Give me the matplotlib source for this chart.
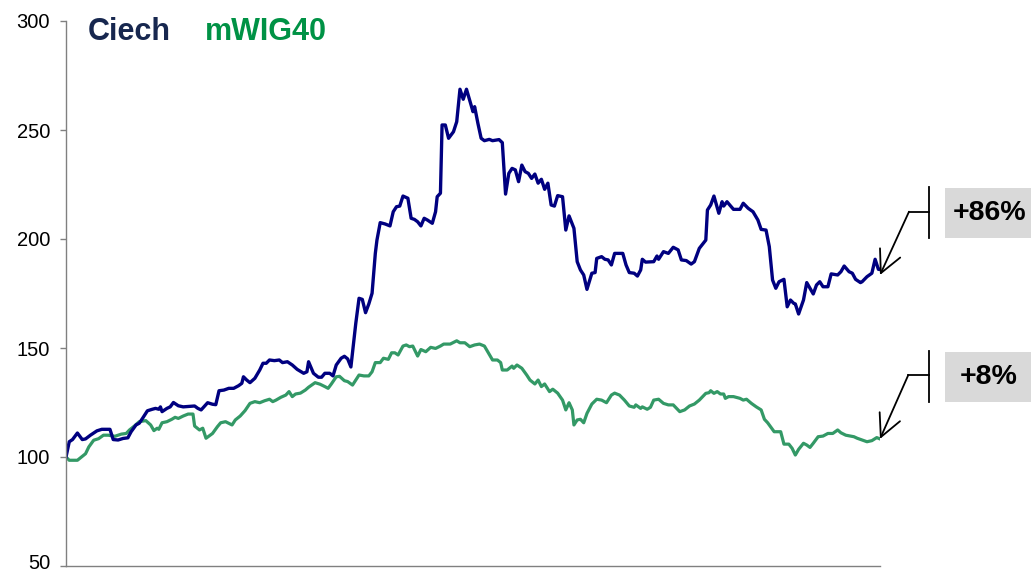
import matplotlib
matplotlib.use("Agg")
import matplotlib.pyplot as plt
import matplotlib.transforms as mtransforms
from matplotlib.lines import Line2D
from matplotlib.patches import Rectangle

plt.rcParams['font.family'] = ['Liberation Sans', 'DejaVu Sans']

# trading-day index and indexed value (start = 100)
ciech_days = [0, 2, 4, 7, 10, 12, 15, 19, 22, 27, 29, 32, 35, 38, 40, 43, 45, 47, 50, 53,
              55, 57, 58, 59, 62, 64, 66, 69, 72, 79, 81, 83, 87, 90, 92, 94, 97, 100, 103, 106,
              108, 109, 111, 113, 116, 119, 121, 123, 125, 128, 131, 133, 136, 139, 142, 146, 148, 149, 152, 155,
              157, 159, 162, 164, 166, 169, 171, 173, 175, 178, 180, 182, 184, 186, 188, 190, 191, 193, 196, 199,
              201, 203, 205, 207, 210, 212, 214, 216, 218, 220, 222, 225, 227, 228, 230, 231, 233, 235, 238, 240,
              242, 244, 246, 247, 250, 251, 253, 255, 257, 260, 262, 266, 268, 270, 272, 274, 276, 278, 280, 282,
              284, 286, 288, 290, 292, 294, 296, 298, 300, 302, 305, 307, 309, 312, 314, 316, 318, 320, 323, 325,
              326, 329, 331, 333, 335, 337, 342, 344, 346, 349, 351, 353, 354, 356, 361, 363, 364, 367, 370, 373,
              376, 378, 381, 384, 386, 389, 393, 394, 396, 398, 401, 403, 404, 406, 410, 414, 416, 419, 422, 425,
              427, 430, 432, 434, 436, 438, 441, 443, 445, 447, 448, 450, 453, 455, 457, 459, 461, 463, 465, 468,
              470, 474, 476, 478, 481, 483, 485, 488, 489, 492, 495, 497, 499, 500]
ciech_vals = [100, 107, 108, 111, 108, 108.3, 110, 112, 112.7, 112.7, 108, 107.8, 108.5, 108.8, 111.6, 114.7, 115.5, 117.7, 121.2, 121.9,
              122.3, 121.9, 123, 120.8, 122.3, 123, 125, 123.5, 123, 123.4, 122.3, 121.6, 124.9, 124.2, 124, 130.4, 130.7, 131.5, 131.5, 132.7,
              133.8, 136.8, 135.3, 134.1, 136.1, 139.9, 143, 143, 144.5, 144.2, 144.5, 143.3, 143.7, 142.2, 140.2, 138.4, 139.1, 143.7, 138.4, 136.6,
              136.6, 138.4, 138.4, 137.2, 142.2, 145.3, 146.2, 145, 141.3, 161.3, 172.8, 172.3, 166.2, 170.2, 175.1, 193.4, 199.5, 207.5, 206.9, 206,
              212.5, 214.8, 215.1, 219.7, 218.7, 209.5, 209, 207.9, 206, 209.5, 208.7, 207.2, 212.5, 219.4, 221, 252.3, 252.3, 246.2, 249.2, 253.8,
              268.7, 264.1, 268.7, 266.1, 258.4, 260.7, 253.1, 246.2, 245.1, 245.7, 245.1, 245.6, 244.2, 220.6, 230.1, 232.4, 231.7, 226.3, 233.9, 230.9,
              230.1, 227.8, 229.8, 225.6, 227.4, 222.8, 225.6, 215.6, 215.1, 219.9, 219.4, 204.1, 210.6, 204.9, 189.6, 185.8, 183.5, 176.9, 184.3, 184.6,
              191.1, 191.9, 190.7, 190.4, 188.1, 193.4, 193.4, 188.1, 184.6, 184.3, 183, 185.8, 190.7, 189.4, 189.6, 192.2, 190.7, 194.2, 193.4, 196.2,
              195, 190.4, 190.1, 188.5, 189.6, 195.7, 199.5, 213.3, 215.6, 219.7, 211.8, 217.1, 215.1, 217.1, 213.6, 213.6, 216.4, 214.1, 212.5, 208.7,
              204.4, 204.1, 196.5, 181.2, 177.4, 180.4, 181.5, 168.9, 172, 170.5, 170.2, 165.6, 172, 180, 177.4, 174.8, 178.9, 180.4, 178.1, 178.1,
              184, 183.5, 185, 187.6, 185, 184.3, 181.5, 180, 180.4, 182.7, 184.3, 190.7, 186.1, 186]

mwig_days = [0, 2, 7, 9, 12, 14, 17, 20, 23, 26, 30, 34, 37, 39, 42, 45, 49, 52, 54, 56,
             57, 59, 62, 65, 67, 69, 72, 75, 78, 79, 82, 84, 86, 90, 93, 95, 98, 102, 104, 107,
             110, 113, 116, 119, 122, 125, 127, 129, 132, 135, 137, 139, 141, 144, 147, 149, 153, 156, 159, 161,
             163, 166, 168, 171, 173, 176, 180, 183, 186, 188, 190, 193, 195, 198, 200, 202, 204, 207, 209, 211,
             213, 216, 218, 221, 224, 227, 230, 232, 236, 240, 242, 245, 248, 251, 254, 257, 259, 262, 265, 267,
             268, 271, 274, 275, 277, 280, 283, 285, 288, 290, 292, 294, 297, 299, 302, 305, 307, 309, 311, 312,
             314, 316, 318, 320, 323, 326, 329, 332, 335, 337, 340, 343, 346, 349, 350, 353, 354, 357, 359, 361,
             364, 367, 370, 373, 377, 380, 383, 386, 389, 393, 395, 396, 398, 400, 402, 404, 405, 407, 410, 414,
             416, 418, 421, 424, 427, 429, 431, 435, 439, 441, 444, 446, 448, 450, 453, 455, 457, 459, 462, 465,
             468, 471, 474, 476, 479, 484, 486, 490, 492, 495, 498, 500]
mwig_vals = [100, 98.5, 98.5, 99.7, 101.5, 104.6, 107.7, 108.4, 110, 110, 109.5, 110.5, 110.8, 112.4, 114.2, 116.2, 116.7, 114.7, 112.1, 113.2,
             112.7, 115.7, 116.2, 117.3, 118.2, 117.7, 118.8, 119.7, 119.7, 114.2, 112.4, 113.2, 108.6, 110.8, 113.9, 115.7, 116.2, 114.7, 117, 118.8,
             121.3, 124.6, 125.4, 124.9, 125.8, 126.5, 125.4, 126.1, 127.4, 128.4, 130, 127.7, 128.9, 129.3, 130.7, 132, 134.1, 133.4, 132.3, 131.5,
             133.5, 136.8, 137, 135, 134.6, 133, 137.6, 137.2, 137.2, 139.1, 143.3, 143.3, 145.3, 144.8, 147.8, 147.8, 146.8, 150.9, 151.4, 150.6,
             150.9, 146.3, 149.3, 148.3, 150.3, 149.8, 150.9, 151.8, 151.8, 153.3, 152.4, 152.4, 150.6, 151.4, 151.8, 150.9, 148.3, 144.5, 144.5, 143.3,
             139.9, 139.9, 141.7, 140.7, 142.2, 140.7, 137.6, 135.3, 133.5, 135.3, 132.3, 133.5, 130, 131.1, 129.3, 126.1, 121.6, 124.9, 121.6, 114.7,
             117, 117.3, 115.7, 120, 124.3, 126.5, 126.1, 124.9, 128.4, 129.3, 128.4, 126.1, 123.4, 122.8, 123.9, 122.3, 123, 121.9, 122.8, 126.1,
             126.5, 124.6, 123.9, 123.9, 120.8, 121.6, 123.4, 124.3, 126.1, 129.2, 129.5, 130.4, 129.2, 130, 128.9, 128.9, 126.9, 127.7, 127.7, 126.9,
             126.1, 126.5, 124.6, 123, 121.6, 117.3, 115.7, 111.6, 111.6, 105.9, 105.9, 104, 100.9, 103.5, 106.3, 105.5, 104.4, 106.3, 109.3, 109.6,
             110.8, 110.8, 112.4, 111.1, 110, 109.3, 108.6, 107.5, 107, 107.5, 108.9, 108.3]

series_names = ["Ciech", "mWIG40"]
change_labels = ["+86%", "+8%"]
y_ticks = [50, 100, 150, 200, 250, 300]

fig = plt.figure(figsize=(10.31, 5.74), dpi=100)
ax = fig.add_axes([66 / 1031, 8 / 574, (880 - 66) / 1031, (566 - 21) / 574])

ax.plot(mwig_days, mwig_vals, color='#339966', lw=2.3, solid_joinstyle='round')
ax.plot(ciech_days, ciech_vals, color='#000080', lw=2.4, solid_joinstyle='round')

ax.set_xlim(0, 500)
ax.set_ylim(50, 300)
ax.set_yticks(y_ticks)
ax.set_xticks([])
for s in ['top', 'right']:
    ax.spines[s].set_visible(False)
for s in ['left', 'bottom']:
    ax.spines[s].set_color('#808080')
    ax.spines[s].set_linewidth(1.0)
ax.tick_params(axis='y', direction='out', length=4.5, width=1.0, color='#808080',
               labelsize=14.5, pad=7)

# keep the lowest tick label inside the figure
fig.canvas.draw()
low_label = ax.get_yticklabels()[0]
low_label.set_transform(low_label.get_transform() +
                        mtransforms.ScaledTranslation(0, 3 / 72, fig.dpi_scale_trans))

# titles
fig.text(88 / 1031, 1 - 40 / 574, series_names[0], color='#17274F', fontsize=22,
         fontweight='bold', ha='left', va='baseline')
fig.text(205 / 1031, 1 - 40 / 574, series_names[1], color='#009245', fontsize=22,
         fontweight='bold', ha='left', va='baseline')

# callouts
def callout(tip_day, tip_val, elbow_px, bar_x, bar_y0, bar_y1, box_y0, box_y1, text, text_x):
    H = 574.0
    W = 1031.0
    ax.annotate('', xy=(tip_day, tip_val), xycoords='data',
                xytext=(elbow_px[0], H - elbow_px[1]), textcoords='figure pixels',
                arrowprops=dict(arrowstyle='->,head_length=0.8,head_width=0.4',
                                color='black', lw=1.3, shrinkA=0, shrinkB=0,
                                mutation_scale=20),
                annotation_clip=False)
    fig.add_artist(Line2D([elbow_px[0] / W, bar_x / W], [1 - elbow_px[1] / H, 1 - elbow_px[1] / H],
                          transform=fig.transFigure, color='black', lw=1.3))
    fig.add_artist(Line2D([bar_x / W, bar_x / W], [1 - bar_y0 / H, 1 - bar_y1 / H],
                          transform=fig.transFigure, color='black', lw=1.3))
    fig.add_artist(Rectangle((945 / W, 1 - box_y1 / H), (1040 - 945) / W, (box_y1 - box_y0) / H,
                             transform=fig.transFigure, facecolor='#D9D9D9', edgecolor='none'))
    fig.text(text_x / W, 1 - (box_y0 + box_y1) / 2 / H, text, fontsize=20.5, fontweight='bold',
             ha='center', va='center', color='black')

callout(ciech_days[-1], ciech_vals[-1] - 2.5, (909, 211.7), 929.3, 187, 238, 188, 238, change_labels[0], 990)
callout(mwig_days[-1], mwig_vals[-1], (908.3, 375), 928.7, 351, 401.7, 352, 402, change_labels[1], 989)

fig.savefig('out.png', dpi=100)
